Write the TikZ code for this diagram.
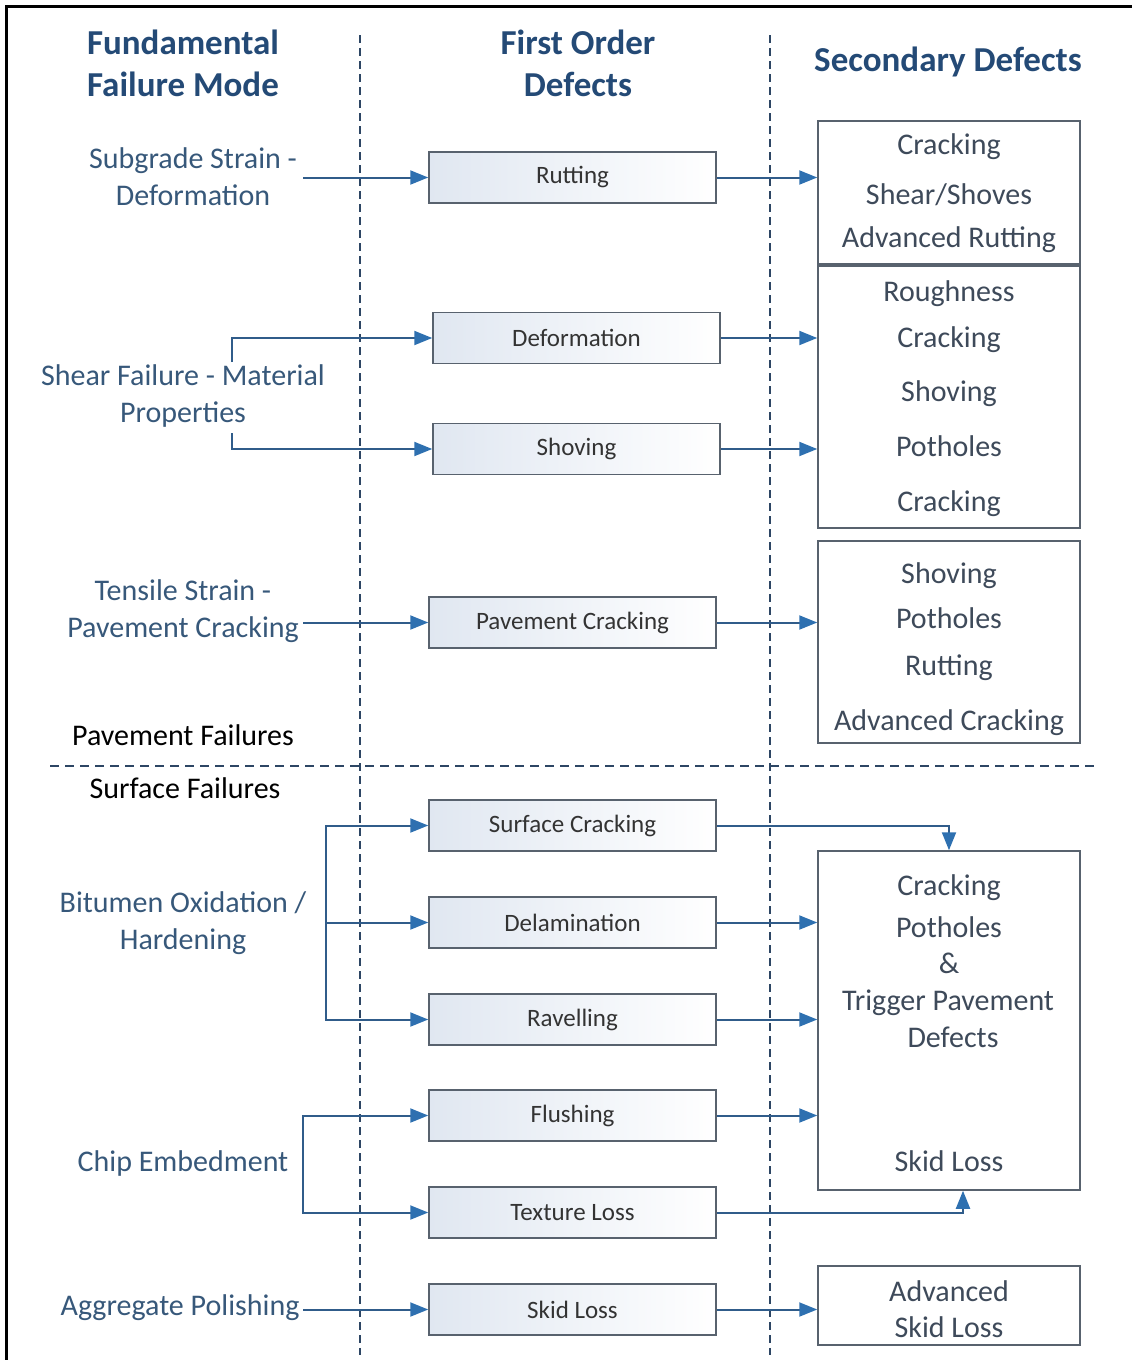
\documentclass[tikz,border=0pt]{standalone}
\usepackage{fontspec}
\setmainfont{Carlito}
\usetikzlibrary{arrows.meta}

\definecolor{hdrc}{RGB}{36,74,118}
\definecolor{lblc}{RGB}{55,88,122}
\definecolor{txtc}{RGB}{62,74,90}
\definecolor{flowc}{RGB}{48,92,138}
\definecolor{tipc}{RGB}{46,112,176}
\definecolor{frmc}{RGB}{88,98,110}
\definecolor{guidec}{RGB}{45,70,100}
\definecolor{shadec}{RGB}{224,231,241}

\tikzset{
  hdrtext/.style={font=\fontsize{35}{42}\selectfont\bfseries, text=hdrc, align=center},
  lbltext/.style={font=\fontsize{30}{37}\selectfont, text=lblc, align=center},
  grptext/.style={font=\fontsize{30}{37}\selectfont, text=black},
  defectbox/.style={draw=frmc, line width=1.5pt, left color=shadec, right color=white,
    minimum width=287pt, minimum height=51pt, inner sep=0pt,
    font=\fontsize{25}{30}\selectfont, text=black!80},
  secbox/.style={draw=frmc, line width=1.5pt, fill=white, inner sep=0pt, minimum width=262pt},
  sectext/.style={font=\fontsize{30}{37}\selectfont, text=txtc, text height=23pt, text depth=4pt, inner sep=0pt},
  flow/.style={draw=flowc, line width=2pt, -{Triangle[length=18pt,width=14pt,color=tipc]}},
  guide/.style={draw=guidec, line width=2.5pt, dash pattern=on 8pt off 5pt},
  frameline/.style={draw=black, line width=3pt},
}

\begin{document}
\begin{tikzpicture}[x=1pt,y=-1pt]
  \useasboundingbox (0,0) rectangle (1132,1360);

  % outer frame (top and left edges)
  \draw[frameline] (5,6) -- (1132,6);
  \draw[frameline] (6,5) -- (6,1360);

  % column separators and the pavement/surface divider
  \draw[guide] (360,35) -- (360,1355);
  \draw[guide] (770,35) -- (770,1355);
  \draw[guide, line width=2pt, dash pattern=on 9pt off 6pt] (50,766) -- (1095,766);

  % column headings
  \node[hdrtext] (h1) at (183,63) {Fundamental\\Failure Mode};
  \node[hdrtext] (h2) at (578,63) {First Order\\Defects};
  \node[hdrtext] (h3) at (948,62) {Secondary Defects};

  % fundamental failure modes
  \node[lbltext] (sub) at (193,177) {Subgrade Strain -\\Deformation};
  \node[lbltext] (shear) at (183,396) {Shear Failure - Material\\Properties};
  \node[lbltext] (tens) at (183,611) {Tensile Strain -\\Pavement Cracking};
  \node[lbltext] (bit) at (183,923) {Bitumen Oxidation /\\Hardening};
  \node[lbltext] (chip) at (183,1163) {Chip Embedment};
  \node[lbltext] (agg) at (180,1308) {Aggregate Polishing};

  \node[grptext] (pf) at (183,735) {Pavement Failures};
  \node[grptext] (sf) at (185,788) {Surface Failures};

  % first order defects
  \node[defectbox] (rut) at (572.5,177.5) {Rutting};
  \node[defectbox] (def) at (576.5,338) {Deformation};
  \node[defectbox] (shv) at (576.5,449) {Shoving};
  \node[defectbox] (pcr) at (572.5,622.5) {Pavement Cracking};
  \node[defectbox] (scr) at (572.5,825.5) {Surface Cracking};
  \node[defectbox] (del) at (572.5,922.5) {Delamination};
  \node[defectbox] (rav) at (572.5,1019.5) {Ravelling};
  \node[defectbox] (flu) at (572.5,1115.5) {Flushing};
  \node[defectbox] (tex) at (572.5,1212.5) {Texture Loss};
  \node[defectbox] (skd) at (572.5,1309.5) {Skid Loss};

  % secondary defect boxes
  \node[secbox, minimum height=143pt] (s1) at (949,192.5) {};
  \node[secbox, minimum height=262pt] (s2) at (949,397) {};
  \node[secbox, minimum height=202pt] (s3) at (949,642) {};
  \node[secbox, minimum height=339pt] (s4) at (949,1020.5) {};
  \node[secbox, minimum height=79pt] (s5) at (949,1305.5) {};

  \node[sectext] (s1a) at (949,145) {Cracking};
  \node[sectext] (s1b) at (949,195) {Shear/Shoves};
  \node[sectext] (s1c) at (949,238) {Advanced Rutting};

  \node[sectext] (s2a) at (949,292) {Roughness};
  \node[sectext] (s2b) at (949,338) {Cracking};
  \node[sectext] (s2c) at (949,392) {Shoving};
  \node[sectext] (s2d) at (949,447) {Potholes};
  \node[sectext] (s2e) at (949,502) {Cracking};

  \node[sectext] (s3a) at (949,574) {Shoving};
  \node[sectext] (s3b) at (949,619) {Potholes};
  \node[sectext] (s3c) at (949,666) {Rutting};
  \node[sectext] (s3d) at (949,721) {Advanced Cracking};

  \node[sectext] (s4a) at (949,886) {Cracking};
  \node[sectext] (s4b) at (949,928) {Potholes};
  \node[sectext] (s4c) at (949,964) {\&};
  \node[sectext] (s4d) at (948,1001) {Trigger Pavement};
  \node[sectext] (s4e) at (953,1038) {Defects};
  \node[sectext] (s4f) at (949,1162) {Skid Loss};

  \node[sectext] (s5a) at (949,1292) {Advanced};
  \node[sectext] (s5b) at (949,1328) {Skid Loss};

  % connector start and branch points
  \coordinate (subo) at (303,177.5);
  \coordinate (shu) at (232,362);
  \coordinate (shd) at (232,433);
  \coordinate (teno) at (303,622.5);
  \coordinate (bitt) at (326,922.5);
  \coordinate (chipt) at (303,1163);
  \coordinate (aggo) at (303,1309.5);

  % fundamental modes to first order defects
  \draw[flow] (subo) -- (rut.west);
  \draw[flow] (shu) |- (def.west);
  \draw[flow] (shd) |- (shv.west);
  \draw[flow] (teno) -- (pcr.west);
  \draw[flow] (bitt) |- (scr.west);
  \draw[flow] (bitt) -- (del.west);
  \draw[flow] (bitt) |- (rav.west);
  \draw[flow] (chipt) |- (flu.west);
  \draw[flow] (chipt) |- (tex.west);
  \draw[flow] (aggo) -- (skd.west);

  % first order defects to secondary defects
  \draw[flow] (rut.east) -- (rut.east -| s1.west);
  \draw[flow] (def.east) -- (def.east -| s2.west);
  \draw[flow] (shv.east) -- (shv.east -| s2.west);
  \draw[flow] (pcr.east) -- (pcr.east -| s3.west);
  \draw[flow] (scr.east) -| (s4.north);
  \draw[flow] (del.east) -- (del.east -| s4.west);
  \draw[flow] (rav.east) -- (rav.east -| s4.west);
  \draw[flow] (flu.east) -- (flu.east -| s4.west);
  \draw[flow] (tex.east) -| ([xshift=14pt]s4.south);
  \draw[flow] (skd.east) -- (skd.east -| s5.west);
\end{tikzpicture}
\end{document}
